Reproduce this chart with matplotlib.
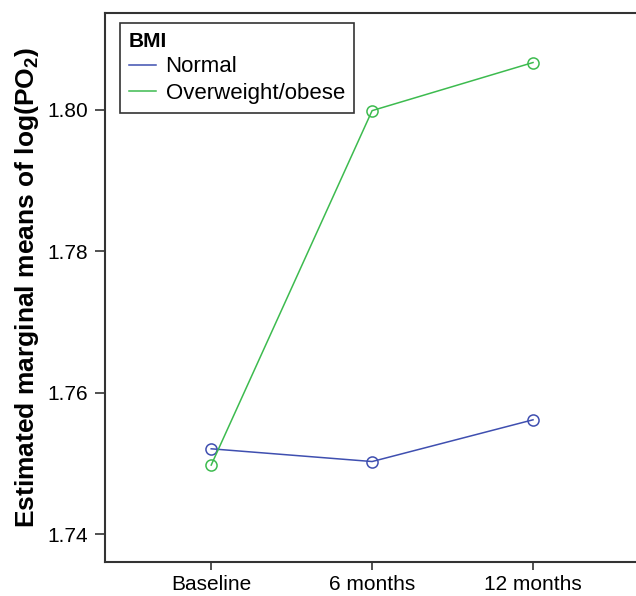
import matplotlib
matplotlib.use("Agg")
import matplotlib.pyplot as plt

timepoints = ["Baseline", "6 months", "12 months"]
normal = [1.7521, 1.7503, 1.7562]
overweight = [1.7498, 1.7999, 1.8067]
y_ticks = [1.74, 1.76, 1.78, 1.80]

plt.rcParams["font.family"] = ["Liberation Sans", "DejaVu Sans"]

fig = plt.figure(figsize=(6.36, 5.96), dpi=100)
ax = fig.add_axes([105 / 636, 1 - 562 / 596, (636 - 105) / 636, (562 - 13) / 596])

x = range(len(timepoints))
ax.plot(x, normal, "-o", color="#3f4fb0", lw=1.1, ms=8, mfc="none", mew=1.1, label="Normal")
ax.plot(x, overweight, "-o", color="#3dbb4f", lw=1.1, ms=8, mfc="none", mew=1.1, label="Overweight/obese")

ax.set_xlim(-0.66, 2.64)
ax.set_ylim(1.7361, 1.8137)
ax.set_xticks(list(x))
ax.set_xticklabels(timepoints)
ax.set_yticks(y_ticks)
ax.set_yticklabels([f"{v:.2f}" for v in y_ticks])
ax.tick_params(labelsize=15, length=7, width=1.2, color="#333333", pad=5)
ax.tick_params(axis="x", length=6, pad=3)

for side in ["left", "bottom", "top"]:
    ax.spines[side].set_linewidth(1.5)
    ax.spines[side].set_color("#333333")
ax.spines["right"].set_visible(False)

ax.set_ylabel("Estimated marginal means of log(PO$_\\mathregular{2}$)", fontsize=19,
              fontweight="bold", labelpad=5)

leg = ax.legend(title="BMI", loc="upper left", fontsize=16, title_fontsize=15,
                frameon=True, fancybox=False, edgecolor="black", handlelength=1.2,
                borderpad=0.4, labelspacing=0.25, handletextpad=0.45, borderaxespad=0,
                bbox_to_anchor=((120 - 105) / 531, (562 - 23) / 549))
leg.get_title().set_fontweight("bold")
leg._legend_box.align = "left"
leg.get_frame().set_linewidth(1.2)
for h in leg.legend_handles:
    h.set_marker("")

fig.savefig("out.png", dpi=100)
